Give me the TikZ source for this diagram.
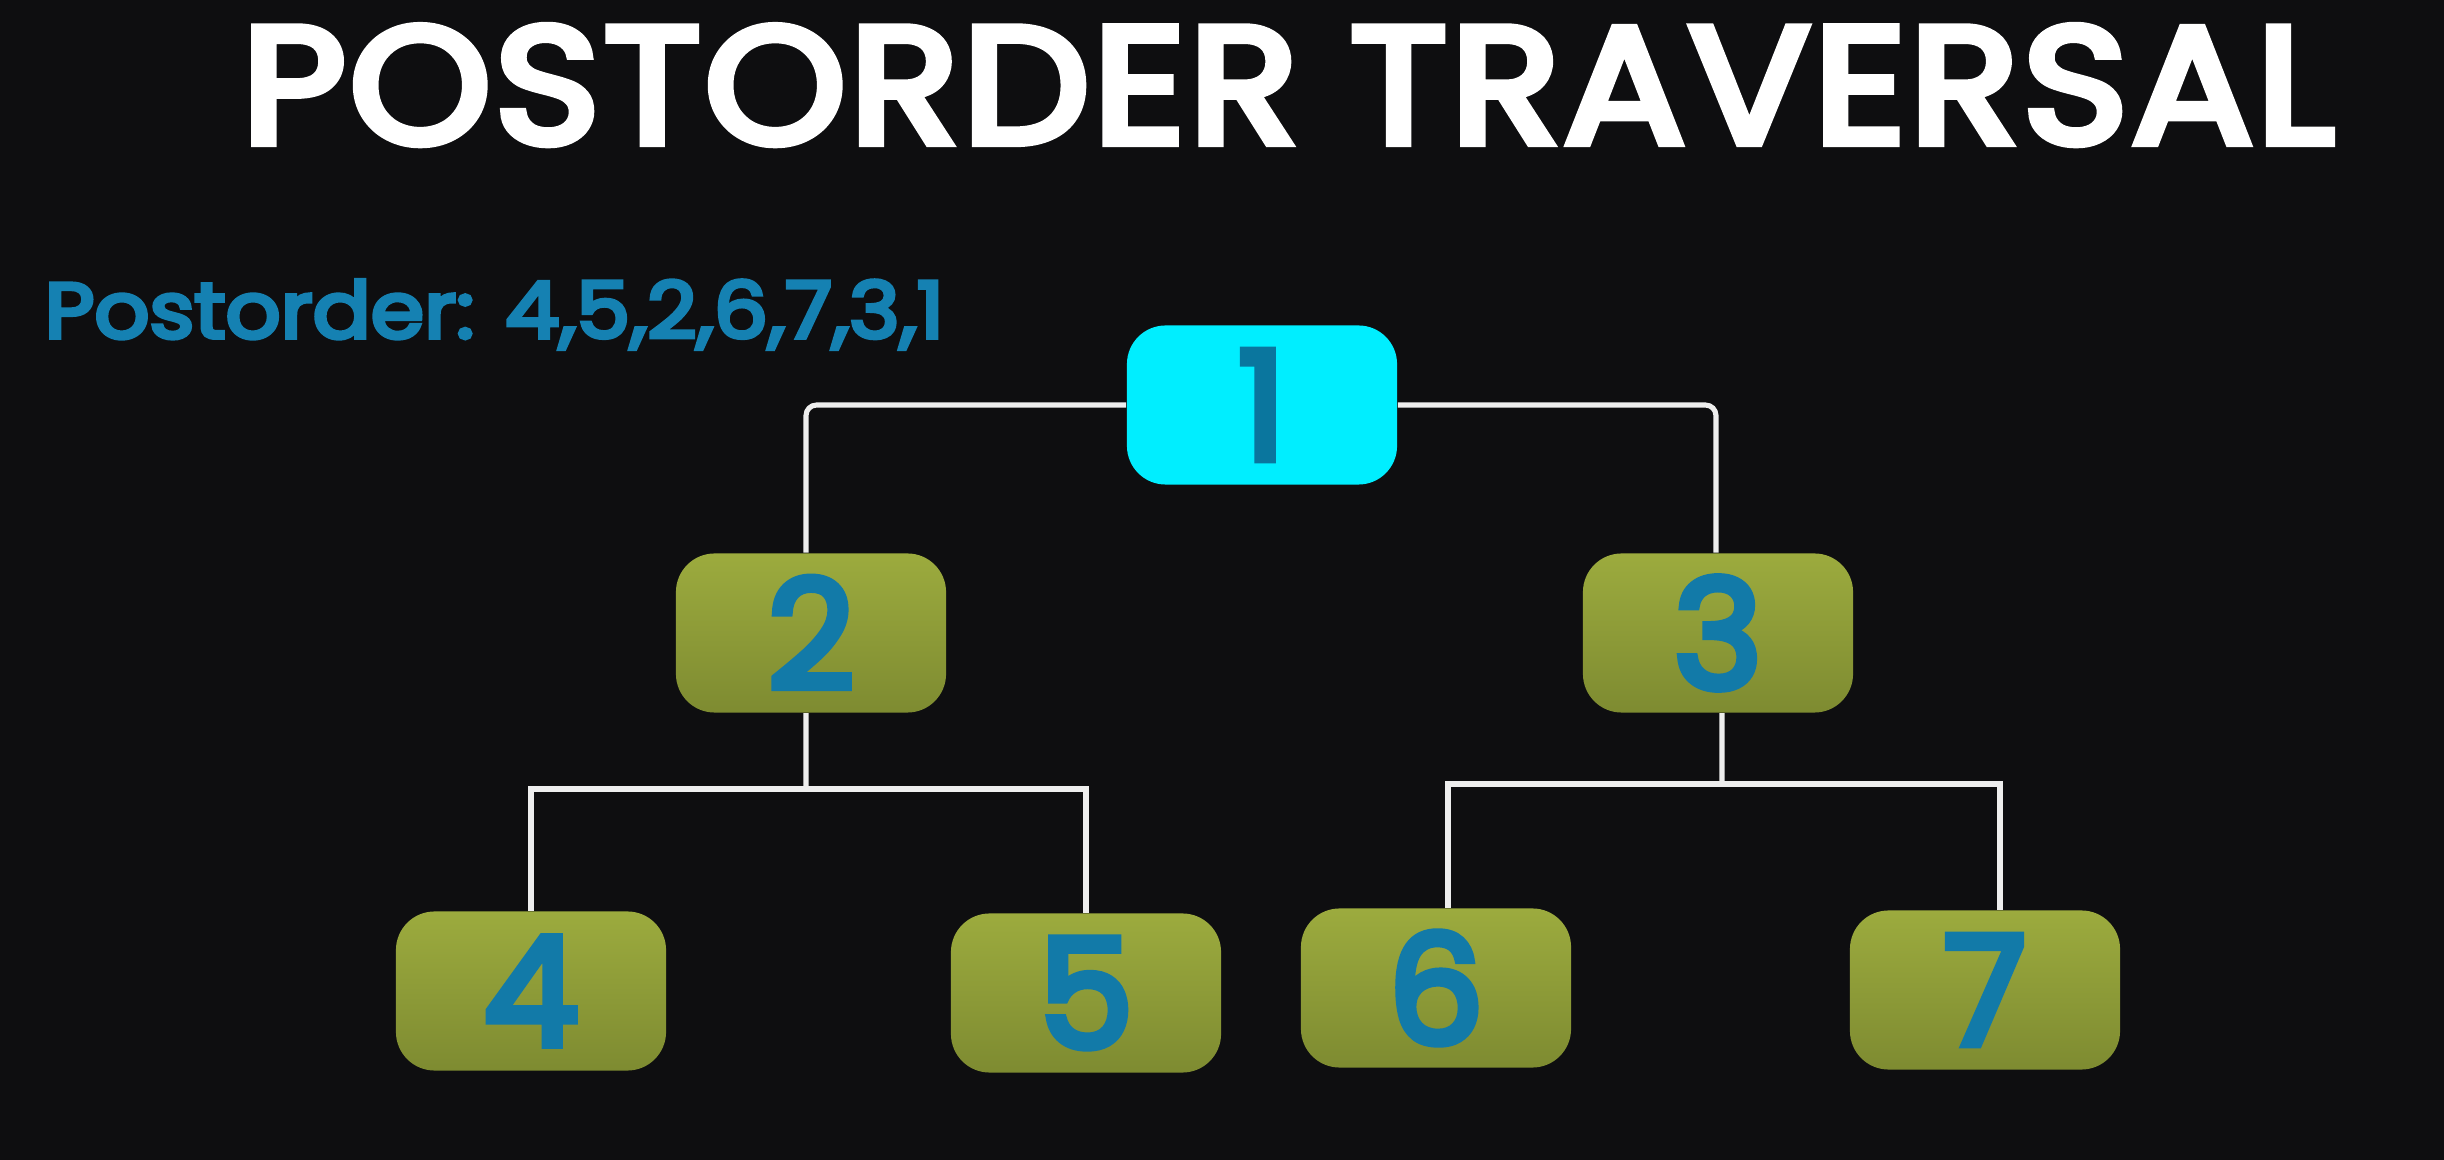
\documentclass[tikz,border=0pt]{standalone}
\usepackage{fontspec}
\setmainfont{Poppins}
\newfontfamily\titlefont[FakeBold=5,LetterSpace=2]{Poppins}
\newfontfamily\semifont[FakeBold=5]{Poppins}
\definecolor{bg}{RGB}{14,14,16}
\definecolor{cyanbox}{RGB}{0,238,255}
\definecolor{olivetop}{RGB}{156,171,62}
\definecolor{olivebot}{RGB}{126,139,49}
\definecolor{digitblue}{RGB}{18,122,168}
\definecolor{onecol}{RGB}{10,118,158}
\definecolor{postblue}{RGB}{21,129,178}
\definecolor{wire}{RGB}{238,238,238}
\tikzset{
  box/.style={rounded corners=11pt, minimum width=2.7cm, minimum height=1.59cm,
    inner sep=0pt, font=\semifont\fontsize{43}{44}\selectfont, text=digitblue},
  leaf/.style={box, top color=olivetop, bottom color=olivebot},
  rootbox/.style={box, fill=cyanbox, text=onecol},
  wireline/.style={draw=wire, line width=1.45pt},
}
\begin{document}
\begin{tikzpicture}[x=0.01cm,y=0.01cm]
\useasboundingbox (0,0) rectangle (2444,1160);
\fill[bg] (0,0) rectangle (2444,1160);
\node[anchor=base, inner sep=0pt, text=white] (title) at (1288,1017)
  {\resizebox{20.91cm}{1.17cm}{\titlefont\fontsize{46.5}{47}\selectfont POSTORDER TRAVERSAL}};
\node[anchor=base west, inner sep=0pt, text=postblue] (post) at (44,822)
  {\resizebox{8.99cm}{0.58cm}{\semifont\fontsize{23.2}{24}\selectfont Postorder: 4,5,2,6,7,3,1}};
\node[rootbox] (n1) at (1262,755) {1};
\node[leaf] (n2) at (811,527) {2};
\node[leaf] (n3) at (1718,527) {3};
\node[leaf] (n4) at (531,169) {4};
\node[leaf] (n5) at (1086,167) {5};
\node[leaf] (n6) at (1436,172) {6};
\node[leaf] (n7) at (1985,170) {7};
\coordinate (b2) at (806,371);
\coordinate (b3) at (1722,376);
\draw[wireline, rounded corners=3pt] (n1.west) -| ([xshift=-0.05cm]n2.north);
\draw[wireline, rounded corners=3pt] (n1.east) -| ([xshift=-0.02cm]n3.north);
\draw[wireline] ([xshift=-0.05cm]n2.south) -- (b2);
\draw[wireline] (n4.north) |- (n5.north |- b2) -- (n5.north);
\draw[wireline] ([xshift=0.04cm]n3.south) -- (b3);
\draw[wireline] ([xshift=0.12cm]n6.north) |- ([xshift=0.15cm]n7.north |- b3) -- ([xshift=0.15cm]n7.north);
\end{tikzpicture}
\end{document}
